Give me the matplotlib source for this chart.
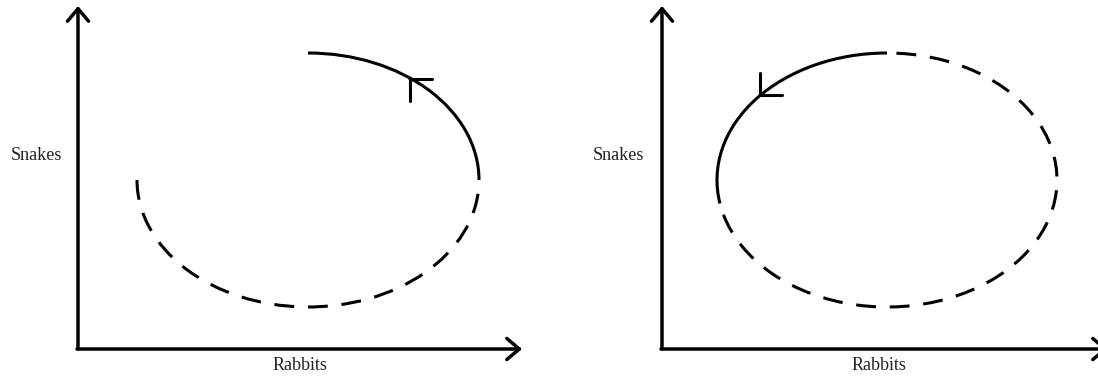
import matplotlib.pyplot as plt
from matplotlib.patches import Arc
import numpy as np

# figure is drawn in pixel-like units, y pointing up
W, H = 1098, 377

# axes of each panel: origin, top of y axis, end of x axis
axis_origin = [(78, 28), (662, 28)]
axis_ytop = [371, 371]
axis_xend = [522, 1108]

# ellipse of each panel: centre, width, height
ell_center = [(308, 197), (887, 197)]
ell_width = [342, 340]
ell_height = [254, 254]

# which part is solid / dashed (degrees, counter-clockwise)
solid_part = [(0, 90), (90, 188)]
dashed_part = [(180, 358), (192, 90)]

# direction arrowheads: angle on the ellipse, pointing direction (deg)
arrow_angle = [54, 139]
arrow_dir = [135, 225]

xlabel_pos = [(300, 12), (879, 12)]
ylabel_pos = [(36, 222), (618, 222)]

fig = plt.figure(figsize=(W / 100, H / 100), dpi=100)
ax = fig.add_axes([0, 0, 1, 1])
ax.set_xlim(0, W)
ax.set_ylim(0, H)
ax.axis('off')

lw_axis = 2.5
lw_curve = 2.2
head = dict(arrowstyle='->,head_length=0.45,head_width=0.38', lw=lw_axis,
            color='black', mutation_scale=20, shrinkA=0, shrinkB=0)

for i in range(2):
    ox, oy = axis_origin[i]
    # y axis
    ax.annotate('', xy=(ox, axis_ytop[i]), xytext=(ox, oy), arrowprops=head,
                annotation_clip=False)
    # x axis
    ax.annotate('', xy=(axis_xend[i], oy), xytext=(ox - 1, oy), arrowprops=head,
                annotation_clip=False)

    cx, cy = ell_center[i]
    w, h = ell_width[i], ell_height[i]
    ax.add_patch(Arc((cx, cy), w, h, theta1=solid_part[i][0], theta2=solid_part[i][1],
                     lw=lw_curve, color='black'))
    ax.add_patch(Arc((cx, cy), w, h, theta1=dashed_part[i][0], theta2=dashed_part[i][1],
                     lw=lw_curve, color='black', linestyle=(0, (6.5, 4.5))))

    # direction arrowhead on the ellipse
    t = np.deg2rad(arrow_angle[i])
    tip = (cx + w / 2 * np.cos(t), cy + h / 2 * np.sin(t))
    d = np.deg2rad(arrow_dir[i])
    back = (tip[0] - 4 * np.cos(d), tip[1] - 4 * np.sin(d))
    ax.annotate('', xy=tip, xytext=back,
                arrowprops=dict(arrowstyle='->,head_length=0.4,head_width=0.4',
                                lw=lw_curve, color='black', mutation_scale=28,
                                shrinkA=0, shrinkB=0))

    ax.text(xlabel_pos[i][0], xlabel_pos[i][1], 'Rabbits', family='Liberation Serif',
            fontsize=13, ha='center', va='center', color='#222222')
    ax.text(ylabel_pos[i][0], ylabel_pos[i][1], 'Snakes', family='Liberation Serif',
            fontsize=13, ha='center', va='center', color='#222222')

fig.savefig('out.png', dpi=100)
